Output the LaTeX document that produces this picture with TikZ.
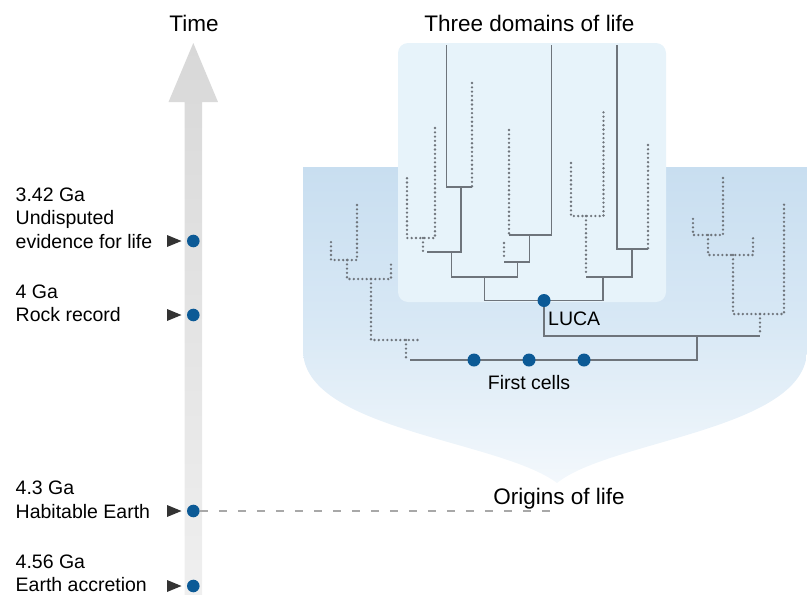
\documentclass[tikz,border=0pt]{standalone}
\usepackage{fontspec}
\setmainfont{Liberation Sans}
\definecolor{dotblue}{HTML}{0C5A96}
\definecolor{treegray}{HTML}{6E747B}
\definecolor{regtop}{HTML}{C8DEF0}
\definecolor{regmid}{HTML}{D8E8F5}
\definecolor{regbot}{HTML}{F3F8FC}
\definecolor{innerbox}{HTML}{E7F3FA}
\definecolor{arrtop}{HTML}{D8D8D8}
\definecolor{arrbot}{HTML}{EFEFEF}
\definecolor{dashgray}{HTML}{A8A8A8}
\definecolor{tricol}{HTML}{333333}
\tikzset{
  solidbr/.style={draw=treegray, line width=1.7pt},
  dotbr/.style={draw=treegray, line width=2.6pt, line cap=round, dash pattern=on 0pt off 4.3pt},
  bigdot/.style={circle, fill=dotblue, inner sep=0pt, minimum size=13pt},
  lab/.style={anchor=base west, inner sep=0pt, font=\fontsize{19.5}{23.5}\selectfont},
  head/.style={anchor=base, inner sep=0pt, font=\fontsize{22.5}{27}\selectfont},
  tri/.style={fill=tricol}
}
\begin{document}
\begin{tikzpicture}[x=1pt,y=-1pt]
\useasboundingbox (0,0) rectangle (807,595);
% big blue region
\shade[top color=regtop, bottom color=regbot, middle color=regmid]
  (303,167) -- (303,350) .. controls (303,430) and (500,440) .. (557,483)
  .. controls (610,440) and (807,430) .. (807,350) -- (807,167) -- cycle;
% inner box
\fill[innerbox, rounded corners=10pt] (398,43) rectangle (666,302);
% time arrow
\shade[top color=arrtop, bottom color=arrbot]
  (184.5,595) -- (184.5,102) -- (168.5,102) -- (193.3,43) -- (218,102) -- (202,102) -- (202,595) -- cycle;
% headings
\node[head] (time) at (194,31.5) {Time};
\node[head] (three) at (529.5,31.5) {Three domains of life};
\node[head] (origins) at (559,504) {Origins of life};
% tree: dotted branches
\draw[dotbr] (472,83) -- (472,187);
\draw[dotbr] (435,128) -- (435,238) -- (407,238) -- (407,177);
\draw[dotbr] (423,238) -- (423,252);
\draw[dotbr] (509,130) -- (509,235);
\draw[dotbr] (504,243) -- (504,260);
\draw[dotbr] (571,163) -- (571,216) -- (603.5,216) -- (603.5,111);
\draw[dotbr] (586,216) -- (586,274);
\draw[dotbr] (648,145) -- (648,249);
\draw[dotbr] (357,205) -- (357,260) -- (331,260) -- (331,240);
\draw[dotbr] (347,260) -- (347,279) -- (391,279) -- (391,262);
\draw[dotbr] (371,279) -- (371,340) -- (420,340);
\draw[dotbr] (406,340) -- (406,358);
\draw[dotbr] (723,178) -- (723,235) -- (693,235) -- (693,215);
\draw[dotbr] (708,235) -- (708,255) -- (753,255) -- (753,237);
\draw[dotbr] (733,255) -- (733,314) -- (784,314) -- (784,204);
\draw[dotbr] (760,314) -- (760,333);
% tree: solid branches
\draw[solidbr] (446.5,45) -- (446.5,187) -- (472,187);
\draw[solidbr] (461,187) -- (461,252) -- (427,252);
\draw[solidbr] (451.5,252) -- (451.5,277) -- (518,277);
\draw[solidbr] (484.5,277) -- (484.5,300.5) -- (603,300.5) -- (603,277);
\draw[solidbr] (551.5,45) -- (551.5,235) -- (509,235);
\draw[solidbr] (529.5,235) -- (529.5,262) -- (504,262);
\draw[solidbr] (517.5,262) -- (517.5,277);
\draw[solidbr] (617,45) -- (617,249) -- (648,249);
\draw[solidbr] (632,249) -- (632,277) -- (586,277);
\draw[solidbr] (544,300.5) -- (544,336) -- (760,336);
\draw[solidbr] (697,336) -- (697,360) -- (410,360);
% tree dots
\node[bigdot] (luca) at (544,300.5) {};
\node[bigdot] (fc1) at (474,360) {};
\node[bigdot] (fc2) at (529,360) {};
\node[bigdot] (fc3) at (584,360) {};
\node[lab] (lucal) at (548,325) {LUCA};
\node[head, font=\fontsize{19.5}{23.5}\selectfont] (fcl) at (529,389) {First cells};
% timeline labels
\node[lab] (a1) at (15.5,201) {3.42 Ga};
\node[lab] (a2) at (15.5,224.5) {Undisputed};
\node[lab] (a3) at (15.5,248) {evidence for life};
\node[lab] (b1) at (15.5,298.5) {4 Ga};
\node[lab] (b2) at (15.5,321.7) {Rock record};
\node[lab] (c1) at (15.5,494.5) {4.3 Ga};
\node[lab] (c2) at (15.5,518.3) {Habitable Earth};
\node[lab] (d1) at (15.5,568) {4.56 Ga};
\node[lab] (d2) at (15.5,591.5) {Earth accretion};
% triangles
\foreach \yy in {241,315,511,586}{
  \fill[tri] (167,\yy-6) -- (181.5,\yy) -- (167,\yy+6) -- cycle;
}
% timeline dots and dashed connector
\coordinate (dashend) at (559,511);
\node[bigdot, minimum size=12.6pt] (t1) at (193.3,241) {};
\node[bigdot, minimum size=12.6pt] (t2) at (193.3,315) {};
\node[bigdot, minimum size=12.6pt] (t3) at (193.3,511) {};
\node[bigdot, minimum size=12.6pt] (t4) at (193.3,586) {};
\draw[dashgray, line width=1.3pt, dash pattern=on 8pt off 11pt] (t3.east) -- (dashend);
\end{tikzpicture}
\end{document}
